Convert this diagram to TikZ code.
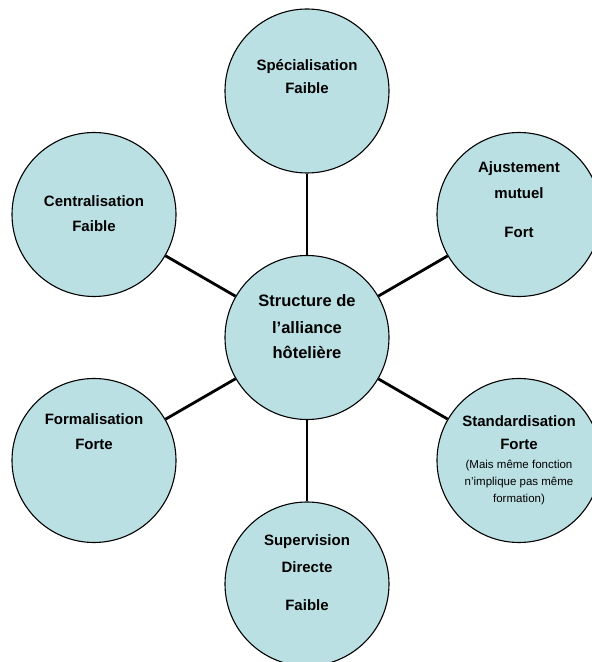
\documentclass[tikz,border=0pt]{standalone}
\usepackage{fontspec}
\setmainfont{Liberation Sans}
\definecolor{paleblue}{RGB}{187,224,227}
\begin{document}
\begin{tikzpicture}[x=1pt,y=1pt,
  bubble/.style={circle,draw=black,line width=1.1pt,fill=paleblue,minimum size=164pt,inner sep=0pt},
  link/.style={line width=2.8pt,black},
  lbl/.style={anchor=base,inner sep=0pt,font=\fontsize{15}{17}\selectfont\bfseries},
  big/.style={anchor=base,inner sep=0pt,font=\fontsize{16.5}{19}\selectfont\bfseries},
  small/.style={anchor=base,inner sep=0pt,font=\fontsize{11.5}{13}\selectfont}]
\useasboundingbox (0,0) rectangle (592,662);
% circles (y = 662 - image y)
\node[bubble] (C)  at (307,324.5) {};
\node[bubble] (T)  at (307,571) {};
\node[bubble] (UL) at (94,447.5) {};
\node[bubble] (UR) at (519,447.5) {};
\node[bubble] (LL) at (94,201.5) {};
\node[bubble] (LR) at (519,201.5) {};
\node[bubble] (B)  at (307,78) {};
% connectors
\draw[link] (C) -- (T);
\draw[link] (C) -- (UL);
\draw[link] (C) -- (UR);
\draw[link] (C) -- (LL);
\draw[link] (C) -- (LR);
\draw[link] (C) -- (B);
% texts
\node[lbl] (t1) at (307,591.3) {Spécialisation};
\node[lbl] (t2) at (307,568.7) {Faible};
\node[lbl] (ul1) at (94,455) {Centralisation};
\node[lbl] (ul2) at (94,430) {Faible};
\node[lbl] (ur1) at (519,489.3) {Ajustement};
\node[lbl] (ur2) at (519,463) {mutuel};
\node[lbl] (ur3) at (519,424) {Fort};
\node[big] (c1) at (307,355.3) {Structure de};
\node[big] (c2) at (307,328) {l’alliance};
\node[big] (c3) at (307,303) {hôtelière};
\node[lbl] (ll1) at (94,237.7) {Formalisation};
\node[lbl] (ll2) at (94,212.7) {Forte};
\node[lbl] (lr1) at (519,235) {Standardisation};
\node[lbl] (lr2) at (519,212) {Forte};
\node[small] (lr3) at (519,193.3) {(Mais même fonction};
\node[small] (lr4) at (519,176) {n’implique pas même};
\node[small] (lr5) at (519,159) {formation)};
\node[lbl] (b1) at (307,116) {Supervision};
\node[lbl] (b2) at (307,89.3) {Directe};
\node[lbl] (b3) at (307,51) {Faible};
\end{tikzpicture}
\end{document}
